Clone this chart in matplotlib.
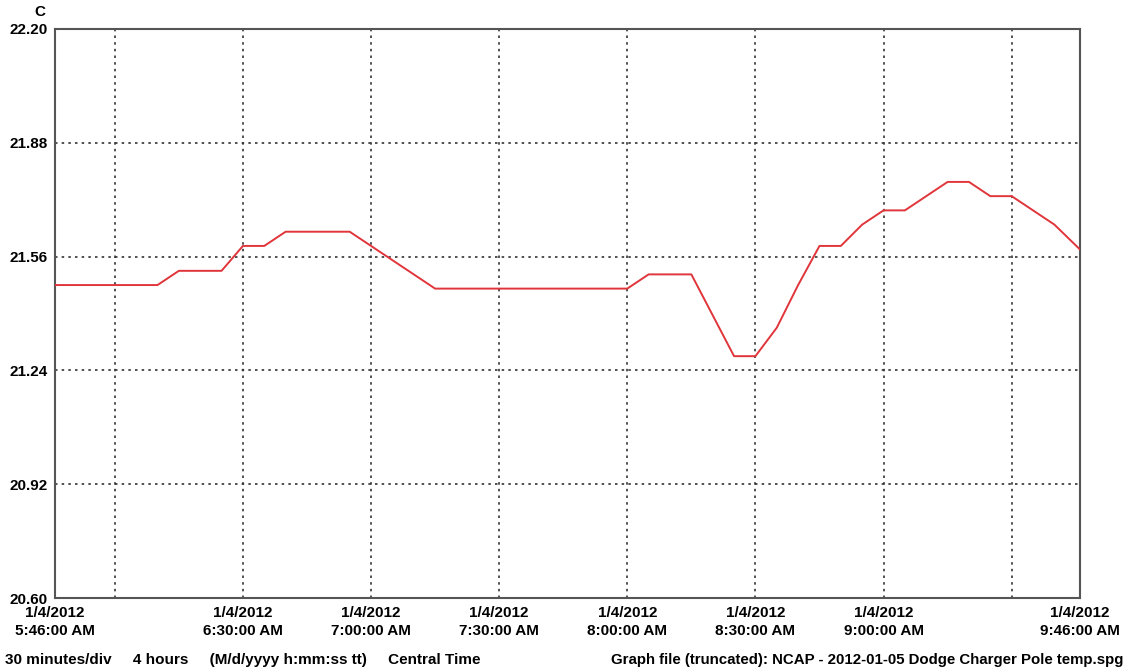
import matplotlib
matplotlib.use("Agg")
import matplotlib.pyplot as plt
import pandas as pd

# === data ===
day = "2012-01-04 "
times = ["05:46", "06:10", "06:15", "06:25", "06:30", "06:35", "06:40", "06:55",
         "07:15", "08:00", "08:05", "08:15", "08:25", "08:30", "08:35", "08:40",
         "08:45", "08:50", "08:55", "09:00", "09:05", "09:15", "09:20", "09:25",
         "09:30", "09:40", "09:46"]
temps = [21.48, 21.48, 21.52, 21.52, 21.59, 21.59, 21.63, 21.63,
         21.47, 21.47, 21.51, 21.51, 21.28, 21.28, 21.36, 21.48,
         21.59, 21.59, 21.65, 21.69, 21.69, 21.77, 21.77, 21.73,
         21.73, 21.65, 21.58]

y_ticks = [20.60, 20.92, 21.24, 21.56, 21.88, 22.20]
label_times = ["05:46", "06:30", "07:00", "07:30", "08:00", "08:30", "09:00", "09:46"]
grid_times = ["06:00", "06:30", "07:00", "07:30", "08:00", "08:30", "09:00", "09:30"]

x = pd.to_datetime([day + t for t in times])
x_lab = pd.to_datetime([day + t for t in label_times])
x_grid = pd.to_datetime([day + t for t in grid_times])

plt.rcParams['font.family'] = ['Liberation Sans', 'DejaVu Sans']
plt.rcParams['font.weight'] = 'bold'

fig = plt.figure(figsize=(11.29, 6.71), dpi=100)
ax = fig.add_axes([55 / 1129, 1 - 598 / 671, 1025 / 1129, 569 / 671])

ax.plot(x, temps, color='#e0353a', lw=1.4, zorder=3)

ax.set_xlim(x_lab[0], x_lab[-1])
ax.set_ylim(y_ticks[0], y_ticks[-1])

# y axis
ax.set_yticks(y_ticks)
ax.set_yticklabels([f"{v:.2f}" for v in y_ticks], fontsize=11, fontweight='bold')

# x axis: labels at chosen times, dotted grid every 30 minutes
ax.set_xticks(x_lab)
ax.set_xticklabels([t.strftime("1/4/2012\n%-I:%M:%S %p") for t in x_lab],
                   fontsize=11, fontweight='bold', linespacing=1.35)
ax.set_xticks(x_grid, minor=True)
ax.xaxis.remove_overlapping_locs = False

grid_style = dict(color='#333333', linestyle=(0, (1.5, 2.5)), linewidth=1.2)
ax.grid(False)
ax.xaxis.grid(True, which='minor', **grid_style)
ax.yaxis.grid(True, which='major', **grid_style)

ax.tick_params(which='both', length=0)
ax.tick_params(axis='x', pad=6)
ax.tick_params(axis='y', pad=5)

for s in ax.spines.values():
    s.set_color('#555555')
    s.set_linewidth(1.5)

fig.text(40 / 1129, 1 - 12 / 671, "C", fontsize=11, fontweight='bold',
         ha='center', va='center')
fig.text(5 / 1129, 1 - 660 / 671,
         "30 minutes/div     4 hours     (M/d/yyyy h:mm:ss tt)     Central Time",
         fontsize=11, fontweight='bold', ha='left', va='center')
fig.text(1123 / 1129, 1 - 660 / 671,
         "Graph file (truncated): NCAP - 2012-01-05 Dodge Charger Pole temp.spg",
         fontsize=10.8, fontweight='bold', ha='right', va='center')

fig.savefig("out.png", dpi=100, facecolor='white')
